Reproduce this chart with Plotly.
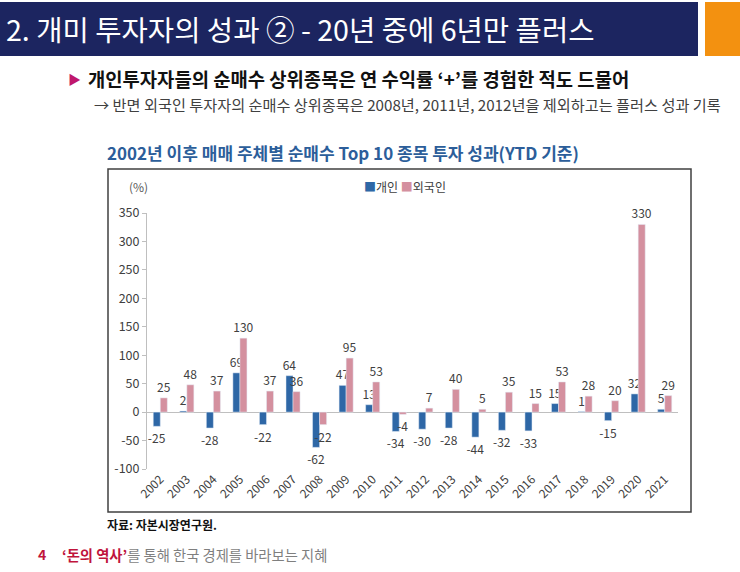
import plotly.graph_objects as go

years = [str(y) for y in range(2002, 2022)]
individual = [-25, 2, -28, 69, -22, 64, -62, 47, 13, -34, -30, -28, -44, -32, -33, 15, 1, -15, 32, 5]
foreign = [25, 48, 37, 130, 37, 36, -22, 95, 53, -4, 7, 40, 5, 35, 15, 53, 28, 20, 330, 29]
y_ticks = [-100, -50, 0, 50, 100, 150, 200, 250, 300, 350]
y_tick_labels = ["-100", "-50", "0", "50", "100", "150", "200", "250", "300", "350"]

BLUE = "#2E67A6"
PINK = "#D4909F"
KR = "Noto Sans CJK KR"
W, H = 740, 572

fig = go.Figure()
fig.add_trace(go.Bar(x=years, y=individual, name="개인", marker_color=BLUE,
                     text=[str(v) for v in individual], textposition="outside",
                     textfont=dict(size=12, color="#404040", family=KR),
                     constraintext="none", cliponaxis=False))
fig.add_trace(go.Bar(x=years, y=foreign, name="외국인", marker_color=PINK,
                     text=[str(v) for v in foreign], textposition="outside",
                     textfont=dict(size=12, color="#404040", family=KR),
                     constraintext="none", cliponaxis=False))

def px(x):
    return x / W

def py(y):
    return 1 - y / H

shapes = [
    dict(type="rect", xref="paper", yref="paper", x0=px(0), x1=px(698), y0=py(56), y1=py(2),
         fillcolor="#1C2560", line=dict(width=0), layer="below"),
    dict(type="rect", xref="paper", yref="paper", x0=px(705), x1=px(740), y0=py(56), y1=py(2),
         fillcolor="#F39110", line=dict(width=0), layer="below"),
    dict(type="rect", xref="paper", yref="paper", x0=px(108), x1=px(691), y0=py(512), y1=py(169),
         fillcolor="rgba(0,0,0,0)", line=dict(color="#404040", width=1.5)),
]

annotations = [
    dict(text="2. 개미 투자자의 성과 ② - 20년 중에 6년만 플러스", x=px(4), y=py(28),
         font=dict(size=28.6, color="white", family=KR), xanchor="left", yanchor="middle"),
    dict(text="▶", x=px(66), y=py(78), font=dict(size=13, color="#C0176C", family=KR),
         xanchor="left", yanchor="middle"),
    dict(text="<b>개인투자자들의 순매수 상위종목은 연 수익률 ‘+’를 경험한 적도 드물어</b>",
         x=px(86), y=py(78), font=dict(size=18.8, color="#111111", family=KR),
         xanchor="left", yanchor="middle"),
    dict(text="→ 반면 외국인 투자자의 순매수 상위종목은 2008년, 2011년, 2012년을 제외하고는 플러스 성과 기록",
         x=px(92), y=py(104), font=dict(size=15.2, color="#404040", family=KR),
         xanchor="left", yanchor="middle"),
    dict(text="<b>2002년 이후 매매 주체별 순매수 Top 10 종목 투자 성과(YTD 기준)</b>",
         x=px(105), y=py(152), font=dict(size=17, color="#2C5E9A", family=KR),
         xanchor="left", yanchor="middle"),
    dict(text="(%)", x=px(127), y=py(186), font=dict(size=12, color="#595959", family=KR),
         xanchor="left", yanchor="middle"),
    dict(text=f"<span style='color:{BLUE}'>■</span>개인 <span style='color:{PINK}'>■</span>외국인",
         x=px(362), y=py(186), font=dict(size=12, color="#404040", family=KR),
         xanchor="left", yanchor="middle"),
    dict(text="<b>자료: 자본시장연구원.</b>", x=px(105), y=py(524),
         font=dict(size=12, color="#111111", family=KR), xanchor="left", yanchor="middle"),
    dict(text="<b>4</b>", x=px(36), y=py(554), font=dict(size=14, color="#C0143C", family=KR),
         xanchor="left", yanchor="middle"),
    dict(text="<span style='color:#C0143C'><b>‘돈의 역사’</b></span>를 통해 한국 경제를 바라보는 지혜",
         x=px(60), y=py(554), font=dict(size=14.3, color="#7F7F7F", family=KR),
         xanchor="left", yanchor="middle"),
]
for a in annotations:
    a.update(xref="paper", yref="paper", showarrow=False)

fig.update_layout(
    width=W, height=H, margin=dict(l=0, r=0, t=0, b=0, autoexpand=False),
    paper_bgcolor="white", plot_bgcolor="white",
    barmode="group", bargap=0.47, bargroupgap=0,
    showlegend=False,
    shapes=shapes, annotations=annotations,
    font=dict(family=KR),
    xaxis=dict(domain=[px(147), px(678)], tickangle=-45, showgrid=False, showline=False,
               automargin=False,
               ticks="", tickfont=dict(size=12, color="#404040", family=KR)),
    yaxis=dict(domain=[py(469), py(213)], range=[-100, 350], tickvals=y_ticks,
               ticktext=y_tick_labels, automargin=False,
               showgrid=False, showline=True, linecolor="#BFBFBF", linewidth=1,
               ticks="outside", ticklen=4, tickcolor="#BFBFBF",
               zeroline=True, zerolinecolor="#BFBFBF", zerolinewidth=1,
               tickfont=dict(size=12.5, color="#404040", family=KR)),
)

fig.write_html("out.html", config={"displayModeBar": False},
               post_script="document.body.style.margin='0';document.body.style.overflow='hidden';")
